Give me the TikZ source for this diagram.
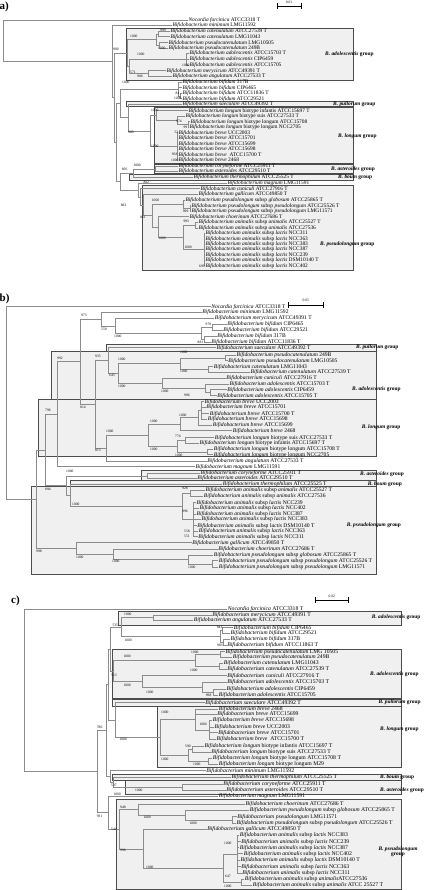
\documentclass[tikz,border=0pt]{standalone}
\usepackage{fontspec}
\setmainfont{Liberation Serif}
\usetikzlibrary{calc}
\definecolor{tl}{gray}{0.55}
\definecolor{bxf}{gray}{0.94}
\definecolor{bxd}{gray}{0.3}
\newcommand\Bf[1]{\textit{Bifidobacterium #1}}
\newcommand\Lac[1]{\Bf{animalis} subsp \textit{lactis} #1}
\newcommand\Ani[1]{\Bf{animalis} subsp \textit{animalis} #1}
\newcommand\Psl[2]{\Bf{pseudolongum} subsp \textit{#1} #2}
\newcommand\Lng[2]{\Bf{longum} biotype #1 #2}
\newcommand\Noc{\textit{Nocardia farcinica} ATCC3318 T}
\newcommand\inode[4]{\coordinate (#1-x) at (#2,0);\coordinate (#1-m) at ($(#3)!0.5!(#4)$);\coordinate (#1) at (#1-x |- #1-m);}
\newcommand\Edg[2]{\foreach \kid in {#2}{\draw[br] (#1) |- (\kid);}}
\begin{document}
\begin{tikzpicture}[x=1pt,y=-1pt,
  br/.style={draw=tl,line width=0.5pt},
  grpbox/.style={fill=bxf,draw=bxd,line width=0.8pt},
  leafa/.style={anchor=west,inner sep=0pt,inner xsep=0.4pt,font=\fontsize{5.4}{5.4}\selectfont},
  leafb/.style={anchor=west,inner sep=0pt,inner xsep=0.4pt,font=\fontsize{5.6}{5.6}\selectfont},
  leafc/.style={anchor=west,inner sep=0pt,inner xsep=0.4pt,font=\fontsize{5.7}{5.7}\selectfont},
  bs/.style={anchor=west,inner sep=0pt,font=\fontsize{3.6}{3.6}\selectfont},
  grp/.style={anchor=west,inner sep=0pt,font=\fontsize{5.4}{5.4}\selectfont\bfseries},
  plab/.style={anchor=west,inner sep=0pt,font=\fontsize{11}{12}\selectfont\bfseries},
  sb/.style={draw=black,line width=0.5pt,|-|},
  sbl/.style={inner sep=0pt,font=\fontsize{3.6}{3.6}\selectfont}]
\fill[white] (0,0) rectangle (424,890);
\useasboundingbox (0,0) rectangle (424,890);

% ================= panel a =================
\node[plab] (pa) at (-0.5,7) {a)};
\coordinate (sa1) at (277,6); \coordinate (sa2) at (301,6);
\draw[sb] (sa1) -- (sa2);
\node[sbl] (sal) at (289,2.5) {0.01};

\draw[grpbox] (126,28) rectangle (353,80);
\draw[grpbox] (126.7,101) rectangle (353,106.7);
\draw[grpbox] (154,107.3) rectangle (353,163);
\draw[grpbox] (154,164.3) rectangle (353,173.7);
\draw[grpbox] (129,174.7) rectangle (353,180);
\draw[grpbox] (142.3,185.7) rectangle (353,270.7);
\node[grp] (ga1) at (325,54) {\textit{B. adolescentis} group};
\node[grp] (ga2) at (333,104) {\textit{B. pullorum} group};
\node[grp] (ga3) at (338,136.7) {\textit{B. longum} group};
\node[grp] (ga4) at (331,169.3) {\textit{B. asteroides} group};
\node[grp] (ga5) at (338,177.5) {\textit{B. boum} group};
\node[grp] (ga6) at (320,244.3) {\textit{B. pseudolongum} group};

\node[leafa] (a1) at (188,20) {\Noc};
\node[leafa] (a2) at (172,25.3) {\Bf{minimum} LMG11592};
\node[leafa] (a3) at (170,31.3) {\Bf{catenulatum} ATCC27539 T};
\node[leafa] (a4) at (170,36.7) {\Bf{catenulatum} LMG11043};
\node[leafa] (a5) at (168,42.7) {\Bf{pseudocatenulatum} LMG10505};
\node[leafa] (a6) at (168,48) {\Bf{pseudocatenulatum} 249B};
\node[leafa] (a7) at (189,53.3) {\Bf{adolescentis} ATCC15703 T};
\node[leafa] (a8) at (189,59.3) {\Bf{adolescentis} CIP6459};
\node[leafa] (a9) at (189,65) {\Bf{adolescentis} ATCC15705};
\node[leafa] (a10) at (166,70.7) {\Bf{merycicum} ATCC49391 T};
\node[leafa] (a11) at (172,76) {\Bf{angulatum} ATCC27533 T};
\node[leafa] (a12) at (182,82.3) {\Bf{bifidum} 317B};
\node[leafa] (a13) at (182,87.7) {\Bf{bifidum} CIP6465};
\node[leafa] (a14) at (182,93) {\Bf{bifidum} ATCC11836 T};
\node[leafa] (a15) at (182,98.7) {\Bf{bifidum} ATCC29521};
\node[leafa] (a16) at (182,104) {\Bf{saeculare} ATCC49392 T};
\node[leafa] (a17) at (188,110.7) {\Lng{infantis}{ATCC15697 T}};
\node[leafa] (a18) at (185,116) {\Lng{suis}{ATCC27533 T}};
\node[leafa] (a19) at (190,121.7) {\Lng{longum}{ATCC15708}};
\node[leafa] (a20) at (189,127.3) {\Lng{longum}{NCC2705}};
\node[leafa] (a21) at (178,132.7) {\Bf{breve} UCC2003};
\node[leafa] (a22) at (178,138.3) {\Bf{breve} ATCC15701};
\node[leafa] (a23) at (178,143.7) {\Bf{breve} ATCC15699};
\node[leafa] (a24) at (178,149) {\Bf{breve} ATCC15698};
\node[leafa] (a25) at (178,154.7) {\Bf{breve} \ ATCC15700 T};
\node[leafa] (a26) at (178,160.3) {\Bf{breve} 2468};
\node[leafa] (a27) at (178,166.3) {\Bf{coryneforme} ATCC25911 T};
\node[leafa] (a28) at (178,171.3) {\Bf{asteroides} ATCC29510 T};
\node[leafa] (a29) at (193,177) {\Bf{thermophilum} ATCC25525 T};
\node[leafa] (a30) at (227,183) {\Bf{magnum} LMG11591};
\node[leafa] (a31) at (200,188.7) {\Bf{cuniculi} ATCC27916 T};
\node[leafa] (a32) at (198,194.3) {\Bf{gallicum} ATCC49850 T};
\node[leafa] (a33) at (185,200) {\Psl{globosum}{ATCC25865 T}};
\node[leafa] (a34) at (191,205.7) {\Psl{pseudolongum}{ATCC25526 T}};
\node[leafa] (a35) at (191,211) {\Psl{pseudolongum}{LMG11571}};
\node[leafa] (a36) at (189,216.7) {\Bf{choerinum} ATCC27686 T};
\node[leafa] (a37) at (198,222.3) {\Ani{ATCC25527 T}};
\node[leafa] (a38) at (198,228) {\Ani{ATCC27536}};
\node[leafa] (a39) at (205,233.3) {\Lac{NCC311}};
\node[leafa] (a40) at (205,238.7) {\Lac{NCC363}};
\node[leafa] (a41) at (205,244.1) {\Lac{NCC383}};
\node[leafa] (a42) at (205,249.5) {\Lac{NCC387}};
\node[leafa] (a43) at (205,254.9) {\Lac{NCC239}};
\node[leafa] (a44) at (205,260.3) {\Lac{DSM10140 T}};
\node[leafa] (a45) at (205,265.7) {\Lac{NCC402}};

\inode{acat}{158}{a3}{a4}
\inode{apse}{159}{a5}{a6}
\inode{acps}{156}{acat}{apse}
\inode{aado3}{186}{a7}{a9}
\inode{amry}{148}{a10}{a11}
\inode{aam}{129}{aado3}{amry}
\inode{aadoG}{127}{acps}{aam}
\inode{abif2}{180}{a14}{a15}
\inode{abif}{178}{a12}{abif2}
\inode{alng2}{188}{a19}{a20}
\inode{alng1}{177}{a18}{alng2}
\inode{alng}{156}{a17}{alng1}
\inode{abrv}{177}{a21}{a26}
\inode{alonG}{150}{alng}{abrv}
\inode{aN5}{128}{a16}{alonG}
\inode{aN4}{120}{abif}{aN5}
\inode{aast}{155}{a27}{a28}
\inode{aN6}{133}{aast}{a29}
\inode{apsl2}{190}{a34}{a35}
\inode{apsl}{183}{a33}{apsl2}
\inode{aaa}{195}{a37}{a38}
\inode{alac}{204}{a39}{a45}
\inode{aanl}{183}{aaa}{alac}
\inode{acha}{158}{a36}{aanl}
\inode{apsc}{152}{apsl}{acha}
\inode{aP2}{143}{a32}{apsc}
\inode{aP1}{140}{a31}{aP2}
\inode{aPM}{138}{a30}{aP1}
\inode{aNB}{120}{aN6}{aPM}
\inode{aN3}{116}{aN4}{aNB}
\inode{aN2}{114}{aadoG}{aN3}
\inode{aN1}{112}{a2}{aN2}
\inode{aroot}{3}{a1}{aN1}

\Edg{acat}{a3,a4} \Edg{apse}{a5,a6} \Edg{acps}{acat,apse}
\Edg{aado3}{a7,a8,a9} \Edg{amry}{a10,a11} \Edg{aam}{aado3,amry}
\Edg{aadoG}{acps,aam} \Edg{abif2}{a14,a15} \Edg{abif}{a12,a13,abif2}
\Edg{alng2}{a19,a20} \Edg{alng1}{a18,alng2} \Edg{alng}{a17,alng1}
\Edg{abrv}{a21,a22,a23,a24,a25,a26} \Edg{alonG}{alng,abrv}
\Edg{aN5}{a16,alonG} \Edg{aN4}{abif,aN5} \Edg{aast}{a27,a28}
\Edg{aN6}{aast,a29} \Edg{apsl2}{a34,a35} \Edg{apsl}{a33,apsl2}
\Edg{aaa}{a37,a38} \Edg{alac}{a39,a40,a41,a42,a43,a44,a45}
\Edg{aanl}{aaa,alac} \Edg{acha}{a36,aanl} \Edg{apsc}{apsl,acha}
\Edg{aP2}{a32,apsc} \Edg{aP1}{a31,aP2} \Edg{aPM}{a30,aP1}
\Edg{aNB}{aN6,aPM} \Edg{aN3}{aN4,aNB} \Edg{aN2}{aadoG,aN3}
\Edg{aN1}{a2,aN2} \Edg{aroot}{a1,aN1}

\foreach \x/\y/\t [count=\i] in {160/30/999, 130/36/1000, 158/48/1000, 113/49/900, 137/54/1000, 182/65/1000, 130/72/571, 137/76/986, 122/82.3/1000, 175.5/93/84, 174/98.7/1000, 151/110.7/1000, 176/121.7/974, 183.3/127.3/99, 128/132/900, 174.3/132.7/52, 151/146.7/1000, 171.7/154.7/958, 171/160.3/1000, 133.3/165.3/1000, 121.7/169/606, 143.3/182.3/802, 151.7/200/1000, 120.7/205/882, 182.7/211/999, 140/217.7/861, 183.3/221/993, 158.3/238.3/1000, 184.3/247.7/1000, 199/266/699}
  \node[bs] (bsa\i) at (\x,\y) {\t};

% ================= panel b =================
\node[plab] (pb) at (-0.5,298.5) {b)};
\coordinate (sb1) at (288.3,305); \coordinate (sb2) at (323.3,305);
\draw[sb] (sb1) -- (sb2);
\node[sbl] (sbll) at (305.8,300.5) {0.05};

\draw[grpbox] (51.7,351) rectangle (376.7,400);
\draw[grpbox] (106.7,344.3) rectangle (376.7,351);
\draw[grpbox] (38.3,399.3) rectangle (376.7,456.7);
\draw[grpbox] (141.7,470.7) rectangle (376.7,480.7);
\draw[grpbox] (70,480.7) rectangle (376.7,486.7);
\draw[grpbox] (31.7,486.7) rectangle (376.7,574.3);
\node[grp] (gb1) at (356,347.7) {\textit{B. pullorum} group};
\node[grp] (gb2) at (352,389) {\textit{B. adolescentis} group};
\node[grp] (gb3) at (361.7,427.3) {\textit{B. longum} group};
\node[grp] (gb4) at (360,474.3) {\textit{B. asteroides} group};
\node[grp] (gb5) at (367.7,484) {\textit{B. boum} group};
\node[grp] (gb6) at (346.7,525) {\textit{B. pseudolongum} group};

\node[leafb] (b1) at (210.7,306.7) {\Noc};
\node[leafb] (b2) at (201.7,312.3) {\Bf{minimum} LMG11592};
\node[leafb] (b3) at (214.3,318.3) {\Bf{merycicum} ATCC49391 T};
\node[leafb] (b4) at (226.7,324.3) {\Bf{bifidum} CIP6465};
\node[leafb] (b5) at (222.7,330) {\Bf{bifidum} ATCC29521};
\node[leafb] (b6) at (216.7,336.3) {\Bf{bifidum} 317B};
\node[leafb] (b7) at (210.7,342.3) {\Bf{bifidum} ATCC11836 T};
\node[leafb] (b8) at (216,347.7) {\Bf{saeculare} ATCC49392 T};
\node[leafb] (b9) at (236,355) {\Bf{pseudocatenulatum} 249B};
\node[leafb] (b10) at (227.7,360.7) {\Bf{pseudocatenulatum} LMG10505};
\node[leafb] (b11) at (213.3,366.7) {\Bf{catenulatum} LMG11043};
\node[leafb] (b12) at (250,372) {\Bf{catenulatum} ATCC27539 T};
\node[leafb] (b13) at (225.7,378.3) {\Bf{cuniculi} ATCC27916 T};
\node[leafb] (b14) at (229,384.3) {\Bf{adolescentis} ATCC15703 T};
\node[leafb] (b15) at (226.7,389.7) {\Bf{adolescentis} CIP6459};
\node[leafb] (b16) at (216.7,395.7) {\Bf{adolescentis} ATCC15705 T};
\node[leafb] (b17) at (204,401.7) {\Bf{breve} UCC2003};
\node[leafb] (b18) at (205.7,407.3) {\Bf{breve} ATCC15701};
\node[leafb] (b19) at (209.3,413.7) {\Bf{breve} ATCC15700 T};
\node[leafb] (b20) at (207.3,419) {\Bf{breve} ATCC15698};
\node[leafb] (b21) at (212.3,425) {\Bf{breve} ATCC15699};
\node[leafb] (b22) at (232.3,430.7) {\Bf{breve} 2468};
\node[leafb] (b23) at (214.3,437.7) {\Lng{suis}{ATCC27533 T}};
\node[leafb] (b24) at (199,443) {\Lng{infantis}{ATCC15697 T}};
\node[leafb] (b25) at (213.3,449.3) {\Lng{longum}{ATCC15708 T}};
\node[leafb] (b26) at (213.3,454.7) {\Lng{longum}{NCC2705}};
\node[leafb] (b27) at (206.7,461) {\Bf{angulatum} ATCC27533 T};
\node[leafb] (b28) at (195,466.7) {\Bf{magnum} LMG11591};
\node[leafb] (b29) at (200,473.3) {\Bf{coryneforme} ATCC25911 T};
\node[leafb] (b30) at (196.7,478.3) {\Bf{asteroides} ATCC29510 T};
\node[leafb] (b31) at (222.3,484) {\Bf{thermophilum} ATCC25525 T};
\node[leafb] (b32) at (205,490) {\Ani{ATCC25527 T}};
\node[leafb] (b33) at (203.3,496) {\Ani{ATCC27536}};
\node[leafb] (b34) at (196,502.7) {\Lac{NCC239}};
\node[leafb] (b35) at (199,508.3) {\Lac{NCC402}};
\node[leafb] (b36) at (196,514) {\Lac{NCC387}};
\node[leafb] (b37) at (201,519.3) {\Lac{NCC383}};
\node[leafb] (b38) at (196.7,525.7) {\Lac{DSM10140 T}};
\node[leafb] (b39) at (198.3,531.3) {\Lac{NCC363}};
\node[leafb] (b40) at (197.7,536.7) {\Lac{NCC311}};
\node[leafb] (b41) at (191.7,542.7) {\Bf{gallicum} ATCC49850 T};
\node[leafb] (b42) at (217.7,549) {\Bf{choerinum} ATCC27686 T};
\node[leafb] (b43) at (213.3,555) {\Psl{globosum}{ATCC25865 T}};
\node[leafb] (b44) at (218.3,560.7) {\Psl{pseudolongum}{ATCC25526 T}};
\node[leafb] (b45) at (218.3,567.3) {\Psl{pseudolongum}{LMG11571}};

\inode{bbif1}{212}{b4}{b5}
\inode{bbif2}{204.5}{b6}{b7}
\inode{bbif}{201}{bbif1}{bbif2}
\inode{bB2}{115}{b3}{bbif}
\inode{bB1}{101}{b2}{bB2}
\inode{bpc}{225}{b9}{b10}
\inode{bct}{208}{b11}{b12}
\inode{bC3}{180}{bpc}{bct}
\inode{bC6}{210}{b15}{b16}
\inode{bC5}{205}{b14}{bC6}
\inode{bC4}{162}{b13}{bC5}
\inode{bC2}{118}{bC3}{bC4}
\inode{bC1}{108}{b8}{bC2}
\inode{bbrv1}{201}{b17}{b20}
\inode{bbrv2}{198}{bbrv1}{b21}
\inode{bbrv}{180}{bbrv2}{b22}
\inode{blsi}{185}{b23}{b24}
\inode{blll}{207}{b25}{b26}
\inode{blng}{177}{blsi}{blll}
\inode{blonG}{148}{bbrv}{blng}
\inode{bD1}{106}{blonG}{b27}
\inode{bB4}{95}{bC1}{bD1}
\inode{bB3}{80}{bB1}{bB4}
\inode{bB5}{57}{bB3}{b28}
\inode{bast}{147}{b29}{b30}
\inode{baa}{190}{b32}{b33}
\inode{blac}{193}{b34}{b40}
\inode{ban}{182}{baa}{blac}
\inode{bE2}{70}{b31}{ban}
\inode{bE1}{66.7}{bast}{bE2}
\inode{bB6}{45}{bB5}{bE1}
\inode{bpsl2}{212}{b44}{b45}
\inode{bpsl}{188}{b43}{bpsl2}
\inode{bpch}{113}{b42}{bpsl}
\inode{bpg}{76}{b41}{bpch}
\inode{bR1}{36}{bB6}{bpg}
\inode{broot}{6.7}{b1}{bR1}

\Edg{bbif1}{b4,b5} \Edg{bbif2}{b6,b7} \Edg{bbif}{bbif1,bbif2}
\Edg{bB2}{b3,bbif} \Edg{bB1}{b2,bB2} \Edg{bpc}{b9,b10} \Edg{bct}{b11,b12}
\Edg{bC3}{bpc,bct} \Edg{bC6}{b15,b16} \Edg{bC5}{b14,bC6} \Edg{bC4}{b13,bC5}
\Edg{bC2}{bC3,bC4} \Edg{bC1}{b8,bC2} \Edg{bbrv1}{b17,b18,b19,b20}
\Edg{bbrv2}{bbrv1,b21} \Edg{bbrv}{bbrv2,b22} \Edg{blsi}{b23,b24}
\Edg{blll}{b25,b26} \Edg{blng}{blsi,blll} \Edg{blonG}{bbrv,blng}
\Edg{bD1}{blonG,b27} \Edg{bB4}{bC1,bD1} \Edg{bB3}{bB1,bB4} \Edg{bB5}{bB3,b28}
\Edg{bast}{b29,b30} \Edg{baa}{b32,b33} \Edg{blac}{b34,b35,b36,b37,b38,b39,b40}
\Edg{ban}{baa,blac} \Edg{bE2}{b31,ban} \Edg{bE1}{bast,bE2} \Edg{bB6}{bB5,bE1}
\Edg{bpsl2}{b44,b45} \Edg{bpsl}{b43,bpsl2} \Edg{bpch}{b42,bpsl}
\Edg{bpg}{b41,bpch} \Edg{bR1}{bB6,bpg} \Edg{broot}{b1,bR1}

\foreach \x/\y/\t [count=\i] in {81/315/973, 101/329/559, 114/336.3/1000, 205.5/324/978, 197.5/342.3/881, 180/352.7/1000, 57/358.3/992, 95/356.7/935, 118/359/1000, 180/371.7/1000, 109/375.3/643, 118/386/1000, 161/391/1000, 184/395.7/996, 45/410/796, 80/407.7/814, 179/415.7/1000, 150/421/1000, 106/431.7/1000, 175/436.7/774, 150/449/1000, 95/450.7/813, 175/455/1000, 66/471/1000, 45/489.5/894, 182/488.3/928, 72/504/1000, 182/511.7/996, 184/531.3/558, 184/536.7/551, 36/551.7/998, 76/557.3/1000, 112/561/1000, 188/567.7/1000}
  \node[bs] (bsb\i) at (\x,\y) {\t};

% ================= panel c =================
\node[plab] (pc) at (11,601) {c)};
\coordinate (sc1) at (315,600); \coordinate (sc2) at (348.3,600);
\draw[sb] (sc1) -- (sc2);
\node[sbl] (scl) at (331.7,596) {0.02};

\draw[grpbox] (118.3,611.8) rectangle (401.7,625);
\draw[grpbox] (112.3,649.5) rectangle (401.7,698.3);
\draw[grpbox] (112.3,699.3) rectangle (401.7,706);
\draw[grpbox] (157.3,706) rectangle (401.7,767.3);
\draw[grpbox] (112.7,774.3) rectangle (401.7,780);
\draw[grpbox] (125,780) rectangle (401.7,794);
\draw[grpbox] (116,799.3) rectangle (401.7,889.3);
\node[grp] (gc1) at (371.7,617.7) {\textit{B. adolescentis} group};
\node[grp] (gc2) at (370,674.3) {\textit{B. adolescentis} group};
\node[grp] (gc3) at (378.3,702.7) {\textit{B. pullorum} group};
\node[grp] (gc4) at (380,729) {\textit{B. longum} group};
\node[grp] (gc5) at (380,777.3) {\textit{B. boum} group};
\node[grp] (gc6) at (380,790.7) {\textit{B. asteroides} group};
\node[grp,anchor=center,align=center] (gc7) at (398,852) {\textit{B. pseudolongum}\\group};

\node[leafc] (c1) at (227.3,609.3) {\Noc};
\node[leafc] (c2) at (211.7,615) {\Bf{merycicum} ATCC49391 T};
\node[leafc] (c3) at (193.3,620) {\Bf{angulatum} ATCC27533 T};
\node[leafc] (c4) at (233.3,627.7) {\Bf{bifidum} CIP6465};
\node[leafc] (c5) at (230,633.3) {\Bf{bifidum} ATCC29521};
\node[leafc] (c6) at (230,639) {\Bf{bifidum} 317B};
\node[leafc] (c7) at (226.7,645) {\Bf{bifidum} ATCC11863 T};
\node[leafc] (c8) at (225,651.7) {\Bf{pseudocatenulatum} LMG 10505};
\node[leafc] (c9) at (232.3,657.3) {\Bf{pseudocatenulatum} 249B};
\node[leafc] (c10) at (223.3,663.3) {\Bf{catenulatum} LMG11043};
\node[leafc] (c11) at (226.7,669.3) {\Bf{catenulatum} ATCC27539 T};
\node[leafc] (c12) at (226.7,675.7) {\Bf{cuniculi} ATCC27916 T};
\node[leafc] (c13) at (226.7,682.3) {\Bf{adolescentis} ATCC15703 T};
\node[leafc] (c14) at (226,689.3) {\Bf{adolescentis} CIP6459};
\node[leafc] (c15) at (218.3,695) {\Bf{adolescentis} ATCC15705};
\node[leafc] (c16) at (204.7,702.7) {\Bf{saeculare} ATCC49392 T};
\node[leafc] (c17) at (218.3,709) {\Bf{breve} 2468};
\node[leafc] (c18) at (216.7,714.3) {\Bf{breve} ATCC15699};
\node[leafc] (c19) at (212.3,720.3) {\Bf{breve} ATCC15698};
\node[leafc] (c20) at (214,727) {\Bf{breve} UCC2003};
\node[leafc] (c21) at (217.7,732.7) {\Bf{breve} ATCC15701};
\node[leafc] (c22) at (216,739.3) {\Bf{breve} \ ATCC15700 T};
\node[leafc] (c23) at (204,746) {\Lng{infantis}{ATCC15697 T}};
\node[leafc] (c24) at (210.7,752) {\Lng{suis}{ATCC27533 T}};
\node[leafc] (c25) at (212.3,758.3) {\Lng{longum}{ATCC15708 T}};
\node[leafc] (c26) at (218.3,764.3) {\Lng{longum}{M29}};
\node[leafc] (c27) at (205.7,770.7) {\Bf{minimum} LMG11592};
\node[leafc] (c28) at (231,777.3) {\Bf{thermophilum} ATCC25525 T};
\node[leafc] (c29) at (222.7,784) {\Bf{coryneforme} ATCC25911 T};
\node[leafc] (c30) at (225.7,790) {\Bf{asteroides} ATCC29510 T};
\node[leafc] (c31) at (218.3,796) {\Bf{magnum} LMG11591};
\node[leafc] (c32) at (245,804) {\Bf{choerinum} ATCC27686 T};
\node[leafc] (c33) at (249.3,810) {\Psl{globosum}{ATCC25865 T}};
\node[leafc] (c34) at (236.7,816.7) {\Bf{pseudolongum} LMG11571};
\node[leafc] (c35) at (236,823.3) {\Psl{pseudolongum}{ATCC25526 T}};
\node[leafc] (c36) at (206.7,829.3) {\Bf{gallicum} ATCC49850 T};
\node[leafc] (c37) at (239.3,835.3) {\Lac{NCC383}};
\node[leafc] (c38) at (240.7,841.7) {\Lac{NCC239}};
\node[leafc] (c39) at (239.3,847.7) {\Lac{NCC387}};
\node[leafc] (c40) at (243.3,853.7) {\Lac{NCC402}};
\node[leafc] (c41) at (240,860.3) {\Lac{DSM10140 T}};
\node[leafc] (c42) at (240.7,866.7) {\Lac{NCC363}};
\node[leafc] (c43) at (241.7,873.3) {\Lac{NCC311}};
\node[leafc] (c44) at (244.3,879.3) {\Bf{animalis} subsp \textit{animalis}ATCC27536};
\node[leafc] (c45) at (252.3,885.3) {\Ani{ATCC 25527 T}};

\inode{cmry}{153}{c2}{c3}
\inode{cbif1}{222}{c4}{c5}
\inode{cbif2}{223}{c6}{c7}
\inode{cbif}{220}{cbif1}{cbif2}
\inode{cA1}{121}{cmry}{cbif}
\inode{cpc}{220}{c8}{c9}
\inode{cct}{219}{c10}{c11}
\inode{cpcc}{195}{cpc}{cct}
\inode{cado2}{213}{c14}{c15}
\inode{cado}{202}{c13}{cado2}
\inode{ccua}{142}{c12}{cado}
\inode{cA2}{113}{cpcc}{ccua}
\inode{cA3}{110}{cA1}{cA2}
\inode{cbrvA}{209}{c19}{c22}
\inode{cbrv}{195}{c17}{cbrvA}
\inode{clis}{192}{c23}{c24}
\inode{clll}{208}{c25}{c26}
\inode{clng}{188}{clis}{clll}
\inode{clonG}{160}{cbrv}{clng}
\inode{csl}{115}{c16}{clonG}
\inode{cR4}{108}{cA3}{csl}
\inode{cast}{182}{c29}{c30}
\inode{cR6}{113}{c28}{cast}
\inode{cR5}{110}{c27}{cR6}
\inode{cR2}{106}{cR4}{cR5}
\inode{cpsl2}{232}{c34}{c35}
\inode{cpsl}{185}{c33}{cpsl2}
\inode{cchp}{138}{c32}{cpsl}
\inode{clac}{237}{c37}{c43}
\inode{caa}{241}{c44}{c45}
\inode{can}{223}{clac}{caa}
\inode{cgan}{143}{c36}{can}
\inode{cR7}{119}{cchp}{cgan}
\inode{cR3}{108}{c31}{cR7}
\inode{cR1}{97}{cR2}{cR3}
\inode{croot}{24}{c1}{cR1}

\Edg{cmry}{c2,c3} \Edg{cbif1}{c4,c5} \Edg{cbif2}{c6,c7} \Edg{cbif}{cbif1,cbif2}
\Edg{cA1}{cmry,cbif} \Edg{cpc}{c8,c9} \Edg{cct}{c10,c11} \Edg{cpcc}{cpc,cct}
\Edg{cado2}{c14,c15} \Edg{cado}{c13,cado2} \Edg{ccua}{c12,cado} \Edg{cA2}{cpcc,ccua}
\Edg{cA3}{cA1,cA2} \Edg{cbrvA}{c19,c20,c21,c22} \Edg{cbrv}{c17,c18,cbrvA}
\Edg{clis}{c23,c24} \Edg{clll}{c25,c26} \Edg{clng}{clis,clll} \Edg{clonG}{cbrv,clng}
\Edg{csl}{c16,clonG} \Edg{cR4}{cA3,csl} \Edg{cast}{c29,c30} \Edg{cR6}{c28,cast}
\Edg{cR5}{c27,cR6} \Edg{cR2}{cR4,cR5} \Edg{cpsl2}{c34,c35} \Edg{cpsl}{c33,cpsl2}
\Edg{cchp}{c32,cpsl} \Edg{clac}{c37,c38,c39,c40,c41,c42,c43} \Edg{caa}{c44,c45}
\Edg{can}{clac,caa} \Edg{cgan}{c36,can} \Edg{cR7}{cchp,cgan} \Edg{cR3}{c31,cR7}
\Edg{cR1}{cR2,cR3} \Edg{croot}{c1,cR1}

\foreach \x/\y/\t [count=\i] in {124/614.3/1000, 112.3/625.7/535, 216.7/627.7/843, 124.3/640/1000, 217/645/983, 191/652.7/1000, 123.3/656.7/1000, 190/670.7/1000, 111/675.7/513, 123.3/685.7/1000, 146/692.3/1000, 205.7/695/998, 161/712.3/1000, 199.3/724.3/1000, 96.7/727.7/780, 119.3/739/1000, 185/746.7/590, 161/759.3/1000, 193/764.7/1000, 111/785/537, 135/790/1000, 113.3/794.3/1000, 120/807.3/948, 96.7/816.7/931, 143.3/817.7/1000, 189.3/823.3/1000, 111/829.3/544, 120/850/996, 224/843/1000, 146/867.3/1000, 225/876.7/647, 224/886/1000}
  \node[bs] (bsc\i) at (\x,\y) {\t};
\end{tikzpicture}
\end{document}
